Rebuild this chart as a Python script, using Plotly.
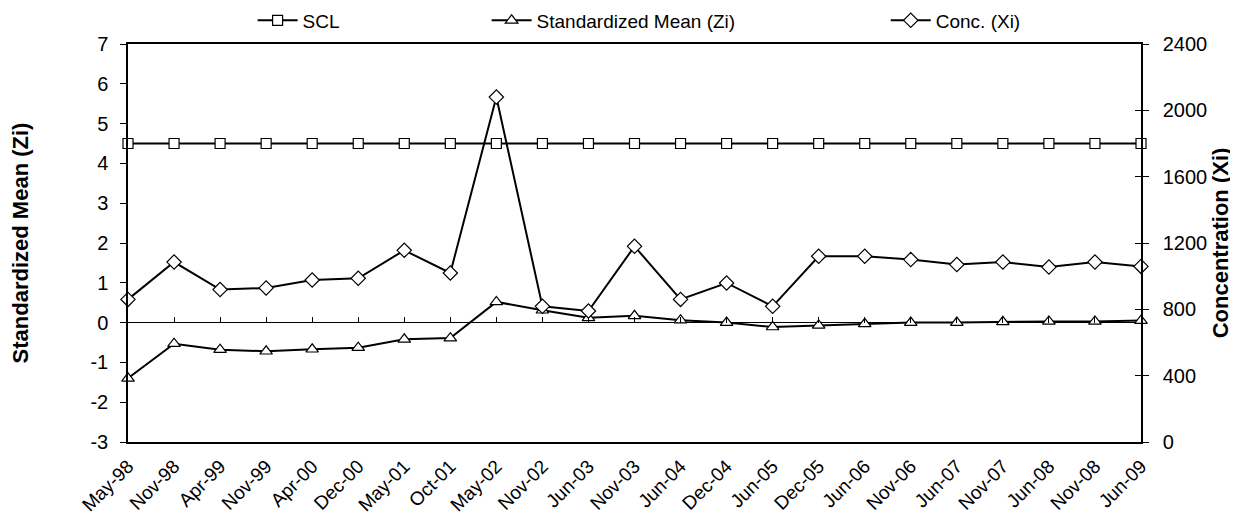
import plotly.graph_objects as go

# sampling dates (category axis)
dates = ["May-98", "Nov-98", "Apr-99", "Nov-99", "Apr-00", "Dec-00", "May-01", "Oct-01",
         "May-02", "Nov-02", "Jun-03", "Nov-03", "Jun-04", "Dec-04", "Jun-05", "Dec-05",
         "Jun-06", "Nov-06", "Jun-07", "Nov-07", "Jun-08", "Nov-08", "Jun-09"]

# shewhart control limit (left axis)
scl = [4.5, 4.5, 4.5, 4.5, 4.5, 4.5, 4.5, 4.5, 4.5, 4.5, 4.5, 4.5,
       4.5, 4.5, 4.5, 4.5, 4.5, 4.5, 4.5, 4.5, 4.5, 4.5, 4.5]

# standardized mean Zi (left axis)
zi = [-1.40, -0.53, -0.68, -0.72, -0.67, -0.63, -0.42, -0.39, 0.52, 0.31, 0.12, 0.17,
      0.06, 0.00, -0.11, -0.07, -0.03, 0.00, 0.00, 0.02, 0.03, 0.03, 0.05]

# concentration Xi (right axis)
conc = [860, 1085, 919, 929, 977, 987, 1156, 1019, 2080, 818, 790, 1180,
        860, 959, 818, 1120, 1120, 1100, 1070, 1085, 1055, 1085, 1059]

left_ticks = [-3, -2, -1, 0, 1, 2, 3, 4, 5, 6, 7]
left_labels = ["-3", "-2", "-1", "0", "1", "2", "3", "4", "5", "6", "7"]
right_ticks = [0, 400, 800, 1200, 1600, 2000, 2400]

FONT = "Liberation Sans, Arial, sans-serif"
line_style = dict(color="black", width=2)

fig = go.Figure()

fig.add_trace(go.Scatter(
    x=dates, y=scl, name="SCL", mode="lines+markers", line=line_style,
    marker=dict(symbol="square", size=10, color="white", line=dict(color="black", width=1.2)),
    cliponaxis=False, legend="legend"))

fig.add_trace(go.Scatter(
    x=dates, y=zi, name="Standardized Mean (Zi)", mode="lines+markers", line=line_style,
    marker=dict(symbol="triangle-up", size=11, color="white", line=dict(color="black", width=1.2)),
    cliponaxis=False, legend="legend2"))

fig.add_trace(go.Scatter(
    x=dates, y=conc, name="Conc. (Xi)", mode="lines+markers", line=line_style, yaxis="y2",
    marker=dict(symbol="diamond", size=11, color="white", line=dict(color="black", width=1.2)),
    cliponaxis=False, legend="legend3"))

# empty helpers so the extra tick axes get drawn
fig.add_trace(go.Scatter(x=dates, y=[None] * len(dates), xaxis="x2", showlegend=False,
                         hoverinfo="skip"))
fig.add_trace(go.Scatter(x=dates, y=[None] * len(dates), yaxis="y3", showlegend=False,
                         hoverinfo="skip"))

legend_common = dict(orientation="h", yref="container", yanchor="middle", y=0.976,
                     xanchor="left", bgcolor="rgba(0,0,0,0)",
                     font=dict(family=FONT, size=19, color="black"), itemwidth=40)

# page body adds ~8px offset, so the figure is a bit smaller than the window
fig.update_layout(
    width=1230, height=519,
    margin=dict(l=120, r=97, t=36, b=85, autoexpand=False),
    paper_bgcolor="white", plot_bgcolor="white",
    font=dict(family=FONT, size=20, color="black"),
    legend=dict(x=0.123, **legend_common),
    legend2=dict(x=0.354, **legend_common),
    legend3=dict(x=0.748, **legend_common),
    xaxis=dict(
        type="category", range=[0, len(dates) - 1], automargin=False,
        showline=True, linecolor="black", linewidth=1.5, mirror=True,
        ticks="", tickangle=-45, tickfont=dict(size=19), ticklabelstandoff=4,
        showgrid=False, zeroline=False,
    ),
    xaxis2=dict(
        type="category", range=[0, len(dates) - 1], overlaying="x",
        anchor="free", position=0.3, side="bottom", automargin=False,
        showline=False, ticks="inside", ticklen=6, tickcolor="black", tickwidth=1,
        showticklabels=False, showgrid=False, zeroline=False,
    ),
    yaxis=dict(
        range=[-3, 7], tickvals=left_ticks, ticktext=left_labels, automargin=False,
        showline=True, linecolor="black", linewidth=1.5,
        ticks="outside", ticklen=6, tickcolor="black", ticklabelstandoff=8,
        showgrid=False, zeroline=True, zerolinecolor="black", zerolinewidth=1,
        title=dict(text="<b>Standardized Mean (Zi)</b>", font=dict(size=22), standoff=56),
    ),
    yaxis2=dict(
        range=[0, 2400], tickvals=right_ticks, overlaying="y", side="right", anchor="x",
        automargin=False, showline=True, linecolor="black", linewidth=1.5,
        ticks="outside", ticklen=6, tickcolor="black", ticklabelstandoff=10,
        showgrid=False, zeroline=False,
        title=dict(text="<b>Concentration (Xi)</b>", font=dict(size=22), standoff=6),
    ),
    yaxis3=dict(
        range=[0, 2400], tickvals=right_ticks, overlaying="y", side="right", anchor="x",
        automargin=False, showline=False, ticks="inside", ticklen=6, tickcolor="black",
        showticklabels=False, showgrid=False, zeroline=False,
    ),
)

fig.write_html("out.html")
